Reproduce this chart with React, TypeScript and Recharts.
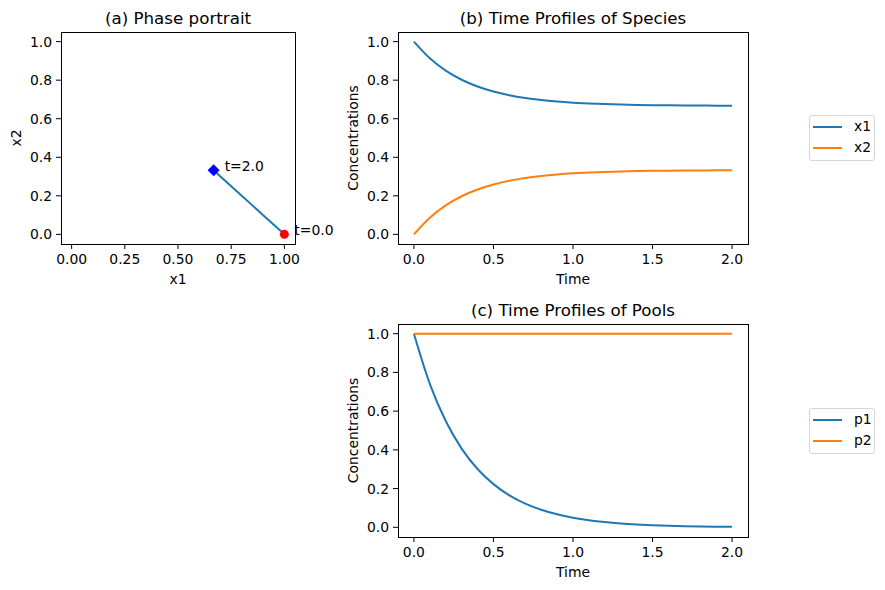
import React from 'react';
import { LineChart, Line, XAxis, YAxis, ReferenceDot, Legend } from 'recharts';

const time = [0, 0.1, 0.2, 0.3, 0.4, 0.5, 0.6, 0.7, 0.8, 0.9, 1.0, 1.1, 1.2, 1.3, 1.4, 1.5, 1.6, 1.7, 1.8, 1.9, 2.0];
const x1Values = [1.0, 0.9136, 0.8496, 0.8022, 0.7671, 0.741, 0.7218, 0.7075, 0.6969, 0.6891, 0.6833, 0.679, 0.6758, 0.6734, 0.6717, 0.6704, 0.6694, 0.6687, 0.6682, 0.6678, 0.6675];
const x2Values = [0.0, 0.0864, 0.1504, 0.1978, 0.2329, 0.259, 0.2782, 0.2925, 0.3031, 0.3109, 0.3167, 0.321, 0.3242, 0.3266, 0.3283, 0.3296, 0.3306, 0.3313, 0.3318, 0.3322, 0.3325];
const p1Values = [1.0, 0.7408, 0.5488, 0.4066, 0.3012, 0.2231, 0.1653, 0.1225, 0.0907, 0.0672, 0.0498, 0.0369, 0.0273, 0.0202, 0.015, 0.0111, 0.0082, 0.0061, 0.0045, 0.0033, 0.0025];
const p2Values = [1.0, 1.0, 1.0, 1.0, 1.0, 1.0, 1.0, 1.0, 1.0, 1.0, 1.0, 1.0, 1.0, 1.0, 1.0, 1.0, 1.0, 1.0, 1.0, 1.0, 1.0];

const phaseTicks = [0, 0.25, 0.5, 0.75, 1.0];
const concTicks = [0, 0.2, 0.4, 0.6, 0.8, 1.0];
const timeTicks = [0, 0.5, 1.0, 1.5, 2.0];
const speciesNames = ['x1', 'x2'];
const poolNames = ['p1', 'p2'];
const pointLabels = ['t=0.0', 't=2.0'];

const BLUE = '#1f77b4';
const ORANGE = '#ff7f0e';
const FONT = 13.9;

const rows = time.map((t, i) => ({
  t,
  x1: x1Values[i],
  x2: x2Values[i],
  p1: p1Values[i],
  p2: p2Values[i],
}));

const tickStyle = { fill: '#000', fontSize: FONT };
const tickLineStyle = { stroke: '#000' };

const Frame = ({ left, top, width, height }) => (
  <div
    style={{
      position: 'absolute', left, top, width, height,
      border: '1px solid #000', boxSizing: 'border-box', pointerEvents: 'none',
    }}
  />
);

const Title = ({ left, top, width, text }) => (
  <div
    style={{
      position: 'absolute', left, top, width, textAlign: 'center',
      fontSize: 16.7, lineHeight: '17px', color: '#000', whiteSpace: 'nowrap',
    }}
  >
    {text}
  </div>
);

const LegendBox = ({ payload }: any) => (
  <div
    style={{
      border: '1px solid #d6d6d6', borderRadius: 3, background: '#fff',
      width: 66, height: 46, boxSizing: 'border-box',
    }}
  >
    {(payload || []).map((entry) => (
      <div key={entry.value} style={{ display: 'flex', alignItems: 'center', height: 21 }}>
        <span style={{ width: 29, height: 2, background: entry.color, marginLeft: 3, display: 'inline-block' }} />
        <span style={{ marginLeft: 12, fontSize: FONT, color: '#000', lineHeight: '21px' }}>{entry.value}</span>
      </div>
    ))}
  </div>
);

const Diamond = (props: any) => {
  const { cx, cy } = props;
  const s = 6;
  return <path d={`M${cx},${cy - s}L${cx + s},${cy}L${cx},${cy + s}L${cx - s},${cy}Z`} fill="#0000ff" />;
};

const yLabel = (value, offset = 0) => ({
  value, angle: -90, position: 'insideLeft', offset, fill: '#000', fontSize: FONT,
  style: { textAnchor: 'middle' },
});
const xLabel = (value) => ({ value, position: 'insideBottom', offset: 0, fill: '#000', fontSize: FONT });

const last = time.length - 1;

export default function App() {
  return (
    <div
      style={{
        position: 'absolute', left: 0, top: 0, width: 885, height: 590,
        background: '#fff', fontFamily: '"DejaVu Sans", sans-serif',
      }}
    >
      {/* (a) phase portrait */}
      <div style={{ position: 'absolute', left: 0, top: 0 }}>
        <LineChart width={340} height={290} data={rows} margin={{ top: 32, left: 16, right: 45, bottom: 6 }}>
          <XAxis
            dataKey="x1" type="number" domain={[-0.05, 1.05]} ticks={phaseTicks} interval={0}
            tickFormatter={(v) => v.toFixed(2)} tick={tickStyle} tickLine={tickLineStyle}
            tickSize={5} tickMargin={5} axisLine={false} height={40} label={xLabel('x1')}
          />
          <YAxis
            type="number" domain={[-0.05, 1.05]} ticks={concTicks} interval={0}
            tickFormatter={(v) => v.toFixed(1)} tick={tickStyle} tickLine={tickLineStyle}
            tickSize={5} tickMargin={4} axisLine={false} width={45} label={yLabel('x2')}
          />
          <Line type="linear" dataKey="x2" stroke={BLUE} strokeWidth={2} dot={false} isAnimationActive={false} />
          <ReferenceDot
            x={x1Values[0]} y={x2Values[0]} r={4.5} fill="#ff0000" stroke="none"
            label={{ value: pointLabels[0], position: 'right', offset: 5.5, dy: -4, fill: '#000', fontSize: FONT }}
          />
          <ReferenceDot
            x={x1Values[last]} y={x2Values[last]} r={6} fill="#0000ff" stroke="none" shape={Diamond}
            label={{ value: pointLabels[1], position: 'right', offset: 5, dy: -4, fill: '#000', fontSize: FONT }}
          />
        </LineChart>
      </div>
      <Frame left={61} top={32} width={235} height={213} />
      <Title left={61} top={10} width={234} text="(a) Phase portrait" />

      {/* (b) species */}
      <div style={{ position: 'absolute', left: 340, top: 0 }}>
        <LineChart width={545} height={290} data={rows} margin={{ top: 32, left: 13, right: 137, bottom: 6 }}>
          <XAxis
            dataKey="t" type="number" domain={[-0.1, 2.1]} ticks={timeTicks} interval={0}
            tickFormatter={(v) => v.toFixed(1)} tick={tickStyle} tickLine={tickLineStyle}
            tickSize={5} tickMargin={5} axisLine={false} height={40} label={xLabel('Time')}
          />
          <YAxis
            type="number" domain={[-0.05, 1.05]} ticks={concTicks} interval={0}
            tickFormatter={(v) => v.toFixed(1)} tick={tickStyle} tickLine={tickLineStyle}
            tickSize={5} tickMargin={4} axisLine={false} width={45} label={yLabel('Concentrations', 0.5)}
          />
          <Line type="monotone" dataKey="x1" name={speciesNames[0]} stroke={BLUE} strokeWidth={2} dot={false} isAnimationActive={false} />
          <Line type="monotone" dataKey="x2" name={speciesNames[1]} stroke={ORANGE} strokeWidth={2} dot={false} isAnimationActive={false} />
          <Legend
            layout="horizontal" verticalAlign="middle" align="center" width={66}
            wrapperStyle={{ left: 469, top: 115, width: 66, height: 46 }}
            content={<LegendBox />}
          />
        </LineChart>
      </div>
      <Frame left={398} top={32} width={351} height={213} />
      <Title left={398} top={10} width={350} text="(b) Time Profiles of Species" />

      {/* (c) pools */}
      <div style={{ position: 'absolute', left: 340, top: 290 }}>
        <LineChart width={545} height={300} data={rows} margin={{ top: 34, left: 13, right: 137, bottom: 13 }}>
          <XAxis
            dataKey="t" type="number" domain={[-0.1, 2.1]} ticks={timeTicks} interval={0}
            tickFormatter={(v) => v.toFixed(1)} tick={tickStyle} tickLine={tickLineStyle}
            tickSize={5} tickMargin={5} axisLine={false} height={40} label={xLabel('Time')}
          />
          <YAxis
            type="number" domain={[-0.05, 1.05]} ticks={concTicks} interval={0}
            tickFormatter={(v) => v.toFixed(1)} tick={tickStyle} tickLine={tickLineStyle}
            tickSize={5} tickMargin={4} axisLine={false} width={45} label={yLabel('Concentrations', 0.5)}
          />
          <Line type="monotone" dataKey="p1" name={poolNames[0]} stroke={BLUE} strokeWidth={2} dot={false} isAnimationActive={false} />
          <Line type="monotone" dataKey="p2" name={poolNames[1]} stroke={ORANGE} strokeWidth={2} dot={false} isAnimationActive={false} />
          <Legend
            layout="horizontal" verticalAlign="middle" align="center" width={66}
            wrapperStyle={{ left: 469, top: 118, width: 66, height: 46 }}
            content={<LegendBox />}
          />
        </LineChart>
      </div>
      <Frame left={398} top={324} width={351} height={214} />
      <Title left={398} top={302} width={350} text="(c) Time Profiles of Pools" />
    </div>
  );
}
